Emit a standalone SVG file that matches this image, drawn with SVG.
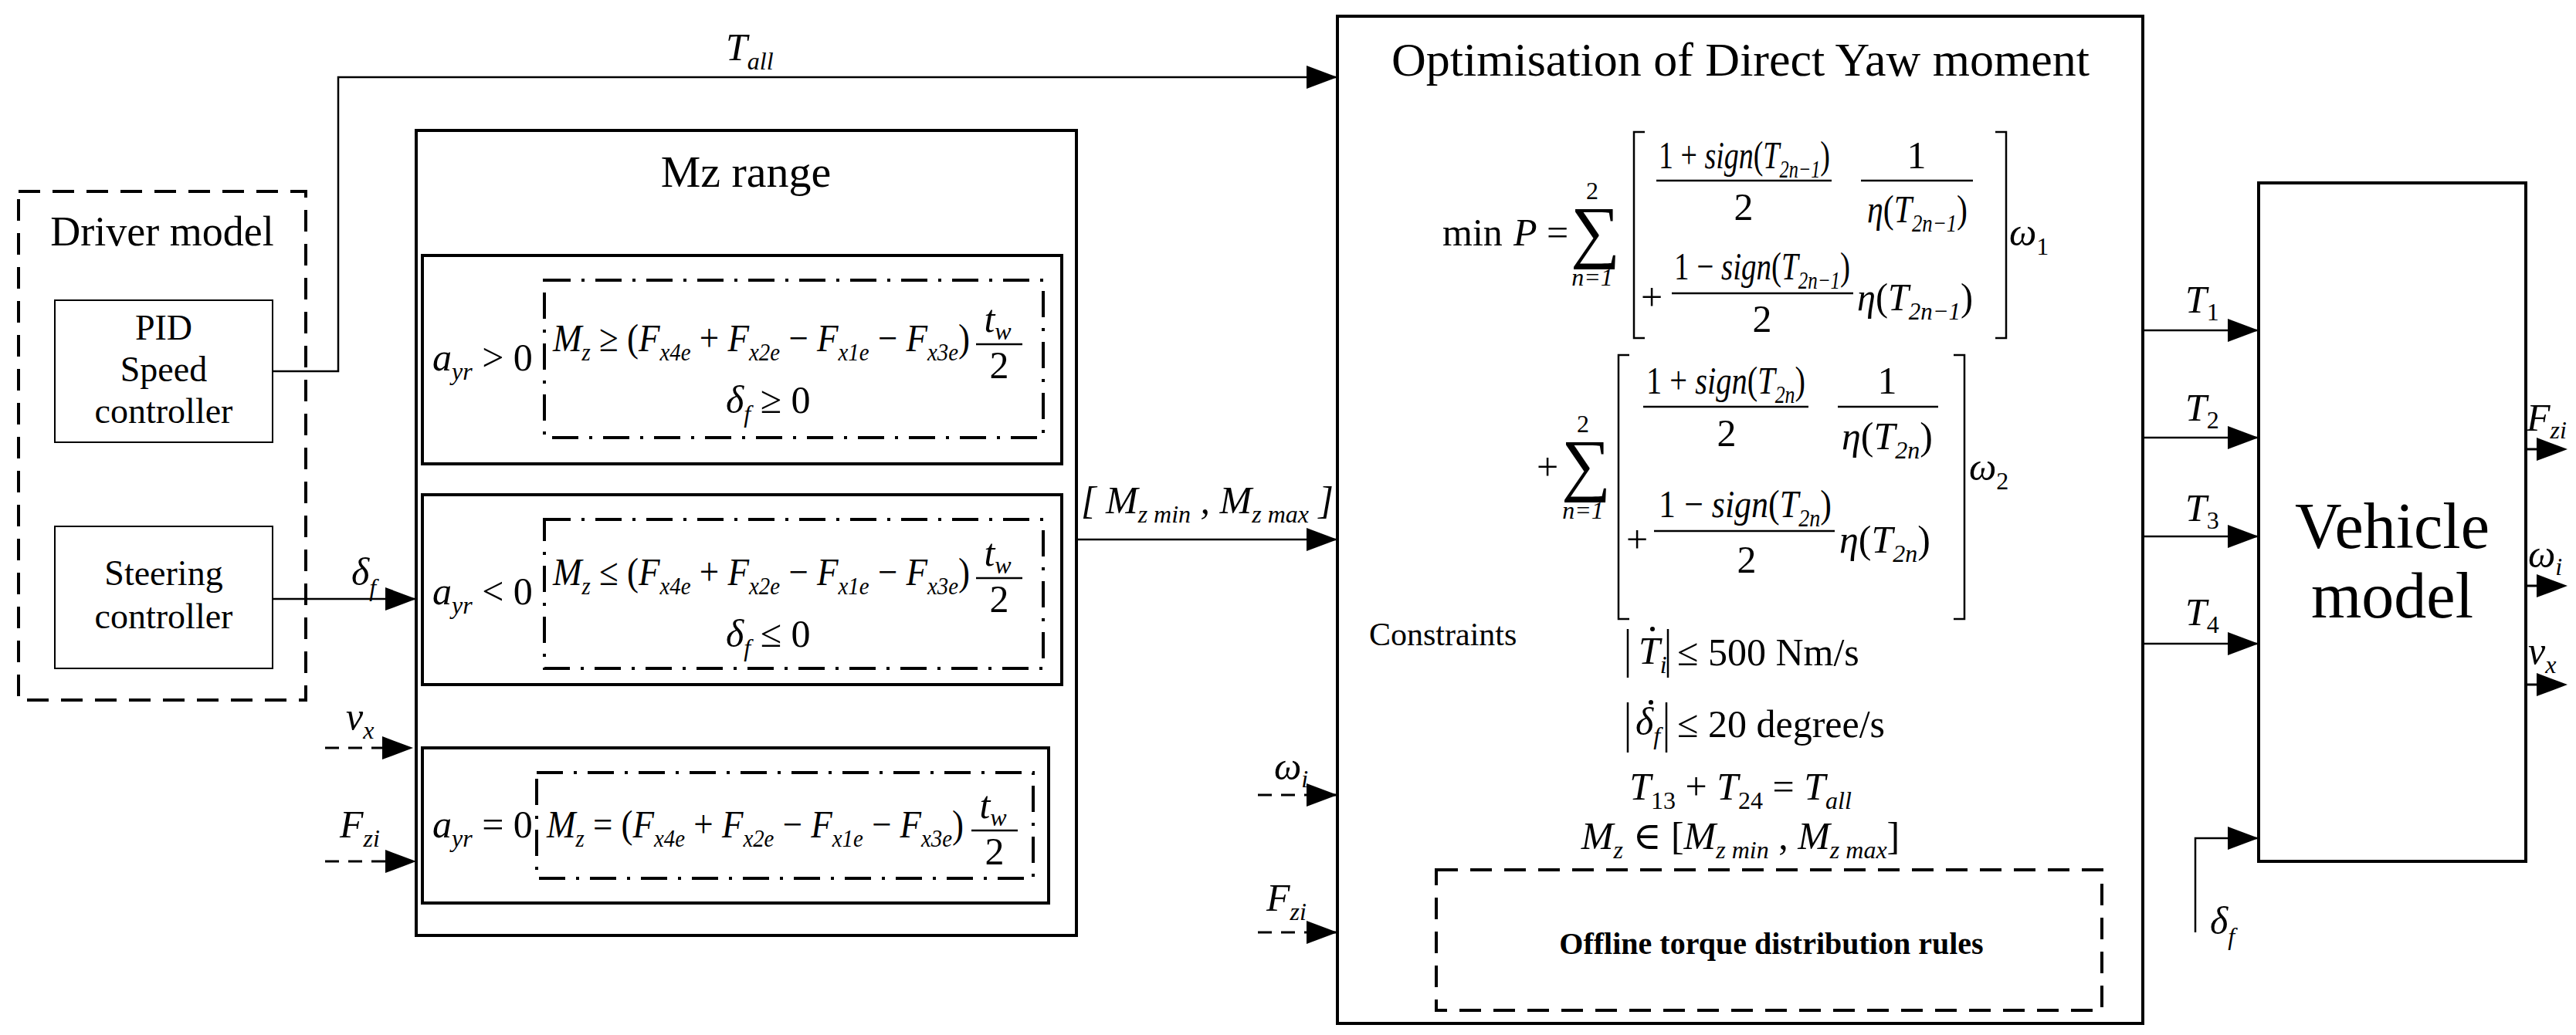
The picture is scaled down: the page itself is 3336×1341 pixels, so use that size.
<svg xmlns="http://www.w3.org/2000/svg" width="3336" height="1341" viewBox="0 0 3336 1341">
<defs>
<style>
text{font-family:"Liberation Serif","DejaVu Serif",serif;fill:#000}
.m{font-style:italic;font-size:50px}
.s{font-size:32px}
.r{font-size:50px}
.ln{stroke:#000;stroke-width:2.5;fill:none}
.bx{stroke:#000;stroke-width:4;fill:#fff}
.thin{stroke:#000;stroke-width:2;fill:#fff}
.dash{stroke:#000;stroke-width:4;fill:none;stroke-dasharray:28 16}
.dd{stroke:#000;stroke-width:4;fill:none;stroke-dasharray:34 14 4 14}
.dl{stroke:#000;stroke-width:3;fill:none;stroke-dasharray:18 12}
</style>
<marker id="a" markerUnits="userSpaceOnUse" markerWidth="40" markerHeight="30" refX="40" refY="15" orient="auto"><path d="M0,0 L40,15 L0,30 z" fill="#000"/></marker>
</defs>

<g id="driver-model">
<rect x="24" y="248" width="372" height="659" class="dash"/>
<text x="210" y="318" font-size="54" text-anchor="middle">Driver model</text>
</g>
<g id="pid">
<rect x="71" y="389" width="282" height="184" class="thin"/>
<text x="212" y="440" font-size="46" text-anchor="middle">PID</text>
<text x="212" y="494" font-size="46" text-anchor="middle">Speed</text>
<text x="212" y="548" font-size="46" text-anchor="middle">controller</text>
</g>
<g id="steering">
<rect x="71" y="682" width="282" height="184" class="thin"/>
<text x="212" y="758" font-size="46" text-anchor="middle">Steering</text>
<text x="212" y="814" font-size="46" text-anchor="middle">controller</text>
</g>

<g id="mz-range">
<rect x="539" y="169" width="855" height="1043" class="bx"/>
<text x="966" y="242" font-size="58" text-anchor="middle">Mz range</text>
<rect x="547" y="331" width="828" height="270" class="bx"/>
<rect x="705" y="363" width="646" height="204" class="dd"/>
<text class="m" x="560" y="480">a<tspan class="s" dy="12">yr</tspan><tspan dy="-12" font-style="normal"> &gt; 0</tspan></text>
<text class="m" x="716" y="455" textLength="540" lengthAdjust="spacingAndGlyphs">M<tspan class="s" dy="12">z</tspan><tspan dy="-12" font-style="normal"> ≥ (</tspan>F<tspan class="s" dy="12">x4e</tspan><tspan dy="-12" font-style="normal"> + </tspan>F<tspan class="s" dy="12">x2e</tspan><tspan dy="-12" font-style="normal"> − </tspan>F<tspan class="s" dy="12">x1e</tspan><tspan dy="-12" font-style="normal"> − </tspan>F<tspan class="s" dy="12">x3e</tspan><tspan dy="-12" font-style="normal">)</tspan></text>
<text class="m" x="1292" y="430" text-anchor="middle">t<tspan class="s" dy="10">w</tspan></text>
<line x1="1264" y1="446" x2="1324" y2="446" class="ln"/>
<text class="r" x="1294" y="490" text-anchor="middle">2</text>
<text class="m" x="940" y="535">δ<tspan class="s" dy="12">f</tspan><tspan dy="-12" font-style="normal"> ≥ 0</tspan></text>

<rect x="547" y="641" width="828" height="246" class="bx"/>
<rect x="705" y="673" width="646" height="193" class="dd"/>
<text class="m" x="560" y="783">a<tspan class="s" dy="12">yr</tspan><tspan dy="-12" font-style="normal"> &lt; 0</tspan></text>
<text class="m" x="716" y="758" textLength="540" lengthAdjust="spacingAndGlyphs">M<tspan class="s" dy="12">z</tspan><tspan dy="-12" font-style="normal"> ≤ (</tspan>F<tspan class="s" dy="12">x4e</tspan><tspan dy="-12" font-style="normal"> + </tspan>F<tspan class="s" dy="12">x2e</tspan><tspan dy="-12" font-style="normal"> − </tspan>F<tspan class="s" dy="12">x1e</tspan><tspan dy="-12" font-style="normal"> − </tspan>F<tspan class="s" dy="12">x3e</tspan><tspan dy="-12" font-style="normal">)</tspan></text>
<text class="m" x="1292" y="733" text-anchor="middle">t<tspan class="s" dy="10">w</tspan></text>
<line x1="1264" y1="749" x2="1324" y2="749" class="ln"/>
<text class="r" x="1294" y="793" text-anchor="middle">2</text>
<text class="m" x="940" y="838">δ<tspan class="s" dy="12">f</tspan><tspan dy="-12" font-style="normal"> ≤ 0</tspan></text>

<rect x="547" y="969" width="811" height="201" class="bx"/>
<rect x="695" y="1001" width="643" height="137" class="dd"/>
<text class="m" x="560" y="1085">a<tspan class="s" dy="12">yr</tspan><tspan dy="-12" font-style="normal"> = 0</tspan></text>
<text class="m" x="708" y="1085" textLength="540" lengthAdjust="spacingAndGlyphs">M<tspan class="s" dy="12">z</tspan><tspan dy="-12" font-style="normal"> = (</tspan>F<tspan class="s" dy="12">x4e</tspan><tspan dy="-12" font-style="normal"> + </tspan>F<tspan class="s" dy="12">x2e</tspan><tspan dy="-12" font-style="normal"> − </tspan>F<tspan class="s" dy="12">x1e</tspan><tspan dy="-12" font-style="normal"> − </tspan>F<tspan class="s" dy="12">x3e</tspan><tspan dy="-12" font-style="normal">)</tspan></text>
<text class="m" x="1286" y="1060" text-anchor="middle">t<tspan class="s" dy="10">w</tspan></text>
<line x1="1258" y1="1076" x2="1318" y2="1076" class="ln"/>
<text class="r" x="1288" y="1120" text-anchor="middle">2</text>
</g>

<g id="optimisation">
<rect x="1732" y="21" width="1043" height="1305" class="bx"/>
<text x="2254" y="98" font-size="62" text-anchor="middle">Optimisation of Direct Yaw moment</text>
<text class="r" x="1868" y="318">min</text>
<text class="m" x="1960" y="318">P<tspan font-style="normal"> =</tspan></text>
<text x="2066" y="330" font-size="90" text-anchor="middle">∑</text>
<text class="s" x="2062" y="258" text-anchor="middle">2</text>
<text class="s" x="2062" y="370" text-anchor="middle" font-style="italic">n=1</text>
<path d="M2130,171 H2116 V438 H2130 M2584,171 H2598 V438 H2584" class="ln"/>
<text class="m" x="2148" y="218" textLength="222" lengthAdjust="spacingAndGlyphs"><tspan font-style="normal">1 + </tspan>sign<tspan font-style="normal">(</tspan>T<tspan class="s" dy="12">2n−1</tspan><tspan dy="-12" font-style="normal">)</tspan></text>
<line x1="2145" y1="234" x2="2372" y2="234" class="ln"/>
<text class="r" x="2258" y="285" text-anchor="middle">2</text>
<text class="r" x="2482" y="218" text-anchor="middle">1</text>
<line x1="2410" y1="234" x2="2555" y2="234" class="ln"/>
<text class="m" x="2418" y="288" textLength="130" lengthAdjust="spacingAndGlyphs">η<tspan font-style="normal">(</tspan>T<tspan class="s" dy="12">2n−1</tspan><tspan dy="-12" font-style="normal">)</tspan></text>
<text class="r" x="2125" y="402">+</text>
<text class="m" x="2168" y="362" textLength="228" lengthAdjust="spacingAndGlyphs"><tspan font-style="normal">1 − </tspan>sign<tspan font-style="normal">(</tspan>T<tspan class="s" dy="12">2n−1</tspan><tspan dy="-12" font-style="normal">)</tspan></text>
<line x1="2165" y1="380" x2="2400" y2="380" class="ln"/>
<text class="r" x="2282" y="430" text-anchor="middle">2</text>
<text class="m" x="2405" y="402" textLength="150" lengthAdjust="spacingAndGlyphs">η<tspan font-style="normal">(</tspan>T<tspan class="s" dy="12">2n−1</tspan><tspan dy="-12" font-style="normal">)</tspan></text>
<text class="m" x="2602" y="318">ω<tspan class="s" dy="12" font-style="normal">1</tspan></text>

<text class="r" x="1990" y="622">+</text>
<text x="2054" y="632" font-size="90" text-anchor="middle">∑</text>
<text class="s" x="2050" y="560" text-anchor="middle">2</text>
<text class="s" x="2050" y="672" text-anchor="middle" font-style="italic">n=1</text>
<path d="M2110,460 H2096 V802 H2110 M2530,460 H2544 V802 H2530" class="ln"/>
<text class="m" x="2132" y="510" textLength="206" lengthAdjust="spacingAndGlyphs"><tspan font-style="normal">1 + </tspan>sign<tspan font-style="normal">(</tspan>T<tspan class="s" dy="12">2n</tspan><tspan dy="-12" font-style="normal">)</tspan></text>
<line x1="2128" y1="527" x2="2342" y2="527" class="ln"/>
<text class="r" x="2236" y="578" text-anchor="middle">2</text>
<text class="r" x="2444" y="510" text-anchor="middle">1</text>
<line x1="2380" y1="527" x2="2510" y2="527" class="ln"/>
<text class="m" x="2444" y="582" text-anchor="middle">η<tspan font-style="normal">(</tspan>T<tspan class="s" dy="12">2n</tspan><tspan dy="-12" font-style="normal">)</tspan></text>
<text class="r" x="2106" y="716">+</text>
<text class="m" x="2148" y="670" textLength="224" lengthAdjust="spacingAndGlyphs"><tspan font-style="normal">1 − </tspan>sign<tspan font-style="normal">(</tspan>T<tspan class="s" dy="12">2n</tspan><tspan dy="-12" font-style="normal">)</tspan></text>
<line x1="2142" y1="688" x2="2376" y2="688" class="ln"/>
<text class="r" x="2262" y="742" text-anchor="middle">2</text>
<text class="m" x="2382" y="716">η<tspan font-style="normal">(</tspan>T<tspan class="s" dy="12">2n</tspan><tspan dy="-12" font-style="normal">)</tspan></text>
<text class="m" x="2550" y="622">ω<tspan class="s" dy="12" font-style="normal">2</tspan></text>

<text x="1773" y="836" font-size="42">Constraints</text>
<path d="M2108,815 V878 M2160,815 V878" class="ln"/>
<text class="m" x="2122" y="860">T<tspan class="s" dy="12">i</tspan></text>
<circle cx="2140" cy="815" r="3"/>
<text class="r" x="2172" y="862">≤ 500 Nm/s</text>
<path d="M2108,910 V975 M2158,910 V975" class="ln"/>
<text class="m" x="2118" y="952">δ<tspan class="s" dy="12">f</tspan></text>
<circle cx="2138" cy="910" r="3"/>
<text class="r" x="2172" y="955">≤ 20 degree/s</text>
<text class="m" x="2254" y="1036" text-anchor="middle">T<tspan class="s" dy="12" font-style="normal">13</tspan><tspan dy="-12" font-style="normal"> + </tspan>T<tspan class="s" dy="12" font-style="normal">24</tspan><tspan dy="-12" font-style="normal"> = </tspan>T<tspan class="s" dy="12">all</tspan></text>
<text class="m" x="2254" y="1100" text-anchor="middle">M<tspan class="s" dy="12">z</tspan><tspan dy="-12" font-style="normal"> ∈ [</tspan>M<tspan class="s" dy="12">z min</tspan><tspan dy="-12" font-style="normal"> , </tspan>M<tspan class="s" dy="12">z max</tspan><tspan dy="-12" font-style="normal">]</tspan></text>
<rect x="1860" y="1127" width="862" height="182" class="dash"/>
<text x="2294" y="1236" font-size="40" font-weight="bold" text-anchor="middle">Offline torque distribution rules</text>
</g>

<g id="vehicle-model">
<rect x="2925" y="237" width="346" height="879" class="bx"/>
<text x="3098" y="710" font-size="84" text-anchor="middle">Vehicle</text>
<text x="3098" y="800" font-size="84" text-anchor="middle">model</text>
</g>

<g id="connectors">
<path d="M353,481 H438 V100 H1732" class="ln" marker-end="url(#a)"/>
<path d="M353,776 H539" class="ln" marker-end="url(#a)"/>
<path d="M421,969 H535" class="dl" marker-end="url(#a)"/>
<path d="M421,1116 H539" class="dl" marker-end="url(#a)"/>
<path d="M1394,699 H1732" class="ln" marker-end="url(#a)"/>
<path d="M1629,1030 H1732" class="dl" marker-end="url(#a)"/>
<path d="M1629,1208 H1732" class="dl" marker-end="url(#a)"/>
<path d="M2775,428 H2925" class="ln" marker-end="url(#a)"/>
<path d="M2775,567 H2925" class="ln" marker-end="url(#a)"/>
<path d="M2775,695 H2925" class="ln" marker-end="url(#a)"/>
<path d="M2775,834 H2925" class="ln" marker-end="url(#a)"/>
<path d="M2843,1208 V1086 H2925" class="ln" marker-end="url(#a)"/>
<path d="M3271,582 H3325" class="dl" marker-end="url(#a)"/>
<path d="M3271,759 H3325" class="dl" marker-end="url(#a)"/>
<path d="M3271,887 H3325" class="dl" marker-end="url(#a)"/>
</g>

<g id="labels">
<text class="m" x="940" y="78" font-size="56">T<tspan class="s" dy="12">all</tspan></text>
<text class="m" x="455" y="758" font-size="56">δ<tspan class="s" dy="14">f</tspan></text>
<text class="m" x="448" y="945">v<tspan class="s" dy="12">x</tspan></text>
<text class="m" x="440" y="1085">F<tspan class="s" dy="12">zi</tspan></text>
<text class="m" x="1400" y="665" font-style="normal">[ <tspan font-style="italic">M</tspan><tspan class="s" dy="12" font-style="italic">z min</tspan><tspan dy="-12"> ,  </tspan><tspan font-style="italic">M</tspan><tspan class="s" dy="12" font-style="italic">z max</tspan><tspan dy="-12"> ]</tspan></text>
<text class="m" x="1650" y="1010" font-size="42">ω<tspan class="s" dy="10" font-style="italic">i</tspan></text>
<text class="m" x="1640" y="1180">F<tspan class="s" dy="12">zi</tspan></text>
<text class="m" x="2830" y="405" font-size="42">T<tspan class="s" dy="10" font-style="normal">1</tspan></text>
<text class="m" x="2830" y="545" font-size="42">T<tspan class="s" dy="10" font-style="normal">2</tspan></text>
<text class="m" x="2830" y="675" font-size="42">T<tspan class="s" dy="10" font-style="normal">3</tspan></text>
<text class="m" x="2830" y="810" font-size="42">T<tspan class="s" dy="10" font-style="normal">4</tspan></text>
<text class="m" x="2862" y="1210" font-size="56">δ<tspan class="s" dy="14">f</tspan></text>
<text class="m" x="3272" y="558" font-size="42">F<tspan class="s" dy="10">zi</tspan></text>
<text class="m" x="3274" y="735" font-size="42">ω<tspan class="s" dy="10">i</tspan></text>
<text class="m" x="3274" y="860">v<tspan class="s" dy="12">x</tspan></text>
</g>
</svg>
